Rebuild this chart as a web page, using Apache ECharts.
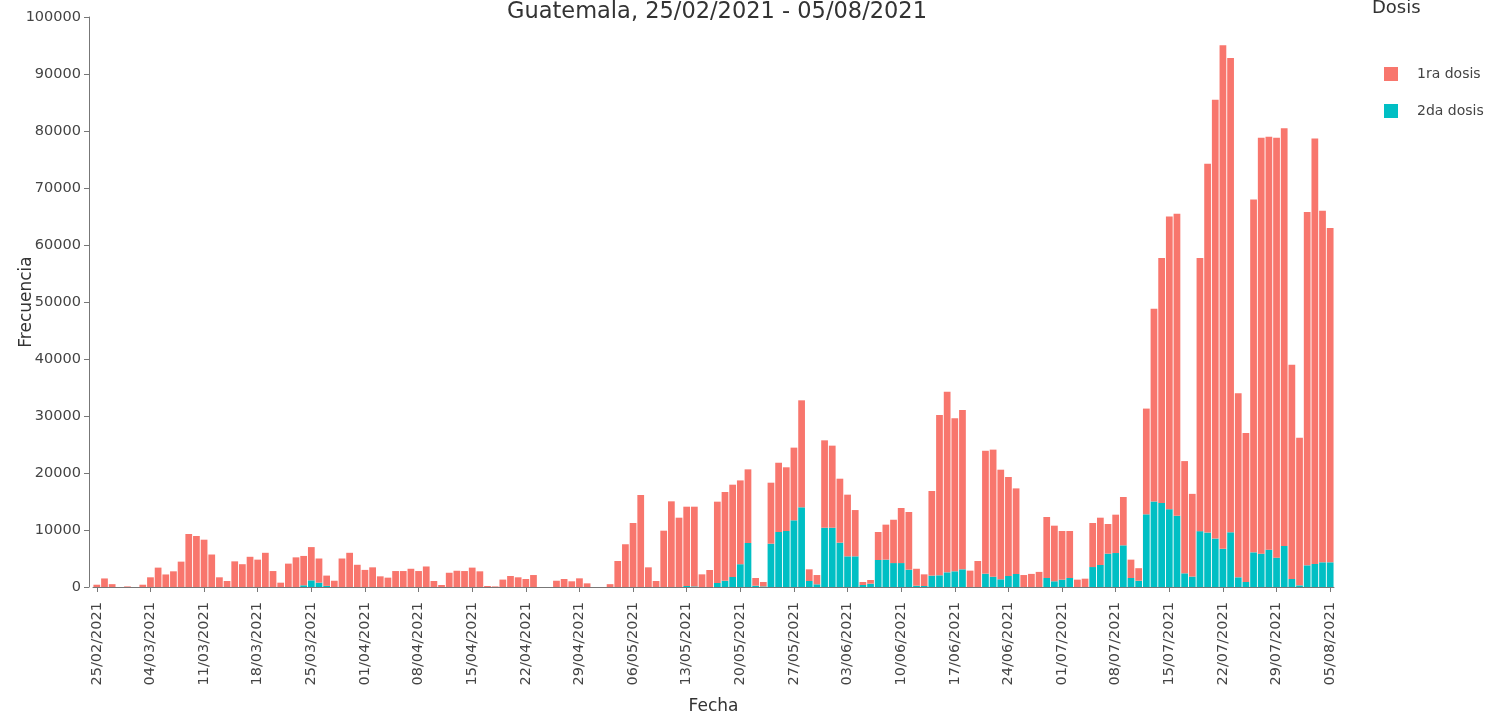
<!DOCTYPE html>
<html>
<head>
<meta charset="utf-8">
<script src="https://cdn.jsdelivr.net/npm/echarts@6/dist/echarts.min.js"></script>
<style>
    html, body { margin: 0; padding: 0; background: #ffffff; }
    #grafico { width: 1491px; height: 718px; }
</style>
</head>
<body>
<div id="grafico"></div>
<script>
    // ====================== DATOS ======================
    // dias desde 25/02/2021 hasta 05/08/2021 (162 dias)
    const fechaInicio = { anio: 2021, mes: 2, dia: 25 };
    const totalDias = 162;

    const primeraDosis = [
        400, 1500, 500, 0, 100, 0, 400, 1700, 3400, 2200,
        2750, 4450, 9300, 8950, 8300, 5700, 1700, 1050, 4500, 4000,
        5300, 4800, 6000, 2800, 760, 4100, 5200, 5150, 5830, 4240,
        1800, 1100, 5000, 6000, 3900, 3000, 3450, 1870, 1640, 2800,
        2800, 3200, 2800, 3600, 1050, 350, 2500, 2850, 2800, 3400,
        2750, 180, 100, 1300, 1930, 1700, 1400, 2100, 0, 0,
        1100, 1400, 1000, 1520, 640, 0, 0, 500, 4560, 7500,
        11230, 16140, 3450, 1050, 9880, 15030, 12160, 13910, 13990, 2220,
        2980, 14270, 15570, 16200, 14700, 12920, 1350, 780, 10700, 12150,
        11180, 12750, 18770, 2050, 1630, 15330, 14400, 11220, 10820, 8120,
        530, 650, 4910, 6140, 7600, 9660, 10120, 2970, 2045, 14840,
        28120, 31700, 26850, 27950, 2870, 4560, 21560, 22300, 19230, 17370,
        15020, 2100, 2300, 2650, 10700, 9760, 8530, 8240, 1290, 1460,
        7730, 8300, 5200, 6730, 8480, 3220, 2200, 18550, 33800, 42990,
        51350, 52980, 19690, 14510, 47940, 64720, 77000, 88340, 83200, 32300,
        26120, 61920, 72950, 72450, 73650, 73310, 37600, 25910, 62000, 74660,
        61670, 58670
    ];

    const segundaDosis = [
        0, 0, 0, 0, 0, 0, 0, 0, 0, 0,
        0, 0, 0, 0, 0, 0, 0, 0, 0, 0,
        0, 0, 0, 0, 0, 0, 0, 300, 1170, 760,
        200, 0, 0, 0, 0, 0, 0, 0, 0, 0,
        0, 0, 0, 0, 0, 0, 0, 0, 0, 0,
        0, 0, 0, 0, 0, 0, 0, 0, 0, 0,
        0, 0, 0, 0, 0, 0, 0, 0, 0, 0,
        0, 0, 0, 0, 0, 0, 0, 180, 100, 0,
        0, 700, 1100, 1750, 4000, 7720, 230, 100, 7600, 9650,
        9820, 11700, 13980, 1050, 470, 10400, 10400, 7780, 5380, 5380,
        350, 580, 4740, 4800, 4200, 4200, 3040, 230, 175, 2000,
        2050, 2570, 2750, 3100, 0, 0, 2340, 1800, 1350, 1930,
        2280, 0, 0, 0, 1580, 1000, 1290, 1580, 0, 0,
        3500, 3860, 5850, 5960, 7310, 1580, 1100, 12750, 15000, 14750,
        13650, 12500, 2400, 1830, 9800, 9550, 8500, 6700, 9600, 1700,
        880, 6080, 5850, 6550, 5150, 7190, 1400, 290, 3800, 4040,
        4330, 4330
    ];

    const nombresSeries = ['1ra dosis', '2da dosis'];
    const coresSeries = ['#F8766D', '#00BFC4'];

    // fechas dd/mm/aaaa
    const fechas = [];
    for (let i = 0; i < totalDias; i++) {
        const d = new Date(Date.UTC(fechaInicio.anio, fechaInicio.mes - 1, fechaInicio.dia + i));
        fechas.push(
            String(d.getUTCDate()).padStart(2, '0') + '/' +
            String(d.getUTCMonth() + 1).padStart(2, '0') + '/' + d.getUTCFullYear()
        );
    }

    // ====================== GRAFICO ======================
    const fuente = '"DejaVu Sans", Verdana, sans-serif';
    const grafico = echarts.init(document.getElementById('grafico'));

    grafico.setOption({
        backgroundColor: '#ffffff',
        animation: false,
        textStyle: { fontFamily: fuente },

        title: [
            {
                text: 'Guatemala, 25/02/2021 - 05/08/2021',
                left: 502,
                top: -4,
                textStyle: { fontFamily: fuente, fontSize: 22.5, fontWeight: 'normal', color: '#333' }
            },
            {
                text: 'Dosis',
                left: 1367,
                top: -6,
                textStyle: { fontFamily: fuente, fontSize: 18, fontWeight: 'normal', color: '#333' }
            }
        ],

        legend: {
            data: nombresSeries,
            orient: 'vertical',
            left: 1384,
            top: 67,
            padding: 0,
            itemWidth: 14,
            itemHeight: 14,
            itemGap: 23,
            icon: 'rect',
            textStyle: { fontFamily: fuente, fontSize: 14, color: '#444', padding: [0, 0, 0, 14] }
        },

        grid: {
            left: 93,
            right: 157,
            top: 17,
            bottom: 131,
            containLabel: false,
            outerBoundsMode: 'none'
        },

        xAxis: {
            type: 'category',
            data: fechas,
            boundaryGap: true,
            name: 'Fecha',
            nameLocation: 'middle',
            nameGap: 111,
            nameMoveOverlap: false,
            nameTextStyle: { fontFamily: fuente, fontSize: 17, color: '#333' },
            axisLine: { show: true, lineStyle: { color: '#777', width: 1 } },
            axisTick: { show: true, interval: 6, alignWithLabel: true, length: 5, lineStyle: { color: '#777' } },
            axisLabel: { interval: 6, rotate: 90, fontSize: 14.5, color: '#444', margin: 15, fontFamily: fuente },
            splitLine: { show: false }
        },

        yAxis: {
            type: 'value',
            min: 0,
            max: 100000,
            interval: 10000,
            offset: 4,
            name: 'Frecuencia',
            nameLocation: 'middle',
            nameGap: 54,
            nameMoveOverlap: false,
            nameTextStyle: { fontFamily: fuente, fontSize: 17, color: '#333' },
            axisLine: { show: true, lineStyle: { color: '#777', width: 1 } },
            axisTick: { show: true, length: 5, lineStyle: { color: '#777' } },
            axisLabel: {
                fontSize: 14.5,
                color: '#444',
                margin: 8,
                fontFamily: fuente,
                formatter: v => String(v)
            },
            splitLine: { show: false }
        },

        series: [
            {
                name: nombresSeries[1],
                type: 'bar',
                stack: 'dosis',
                barCategoryGap: '12%',
                itemStyle: { color: coresSeries[1] },
                data: segundaDosis
            },
            {
                name: nombresSeries[0],
                type: 'bar',
                stack: 'dosis',
                barCategoryGap: '12%',
                itemStyle: { color: coresSeries[0] },
                data: primeraDosis
            }
        ]
    });
</script>
</body>
</html>
